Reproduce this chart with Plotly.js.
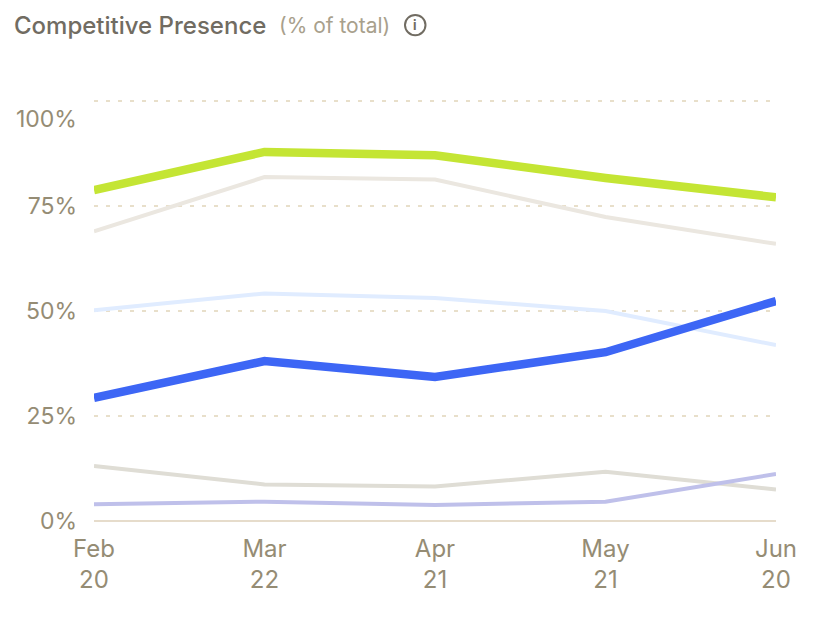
<!DOCTYPE html>
<html>
<head>
<meta charset="utf-8">
<script src="https://cdn.plot.ly/plotly-3.0.1.min.js"></script>
<style>html,body{margin:0;padding:0;background:#fff}#c{width:830px;height:620px}</style>
</head>
<body>
<div id="c"></div>
<script>
const categories = ["Feb<br>20","Mar<br>22","Apr<br>21","May<br>21","Jun<br>20"];
const yTicks = [0,25,50,75,100];
const yTickLabels = ["0%","25%","50%","75%",""];
const greenSeries = [78.8,87.9,87.1,81.7,77.1];
const beigeSeries = [69,81.9,81.3,72.4,66];
const paleBlueSeries = [50.2,54.2,53.1,50,41.9];
const blueSeries = [29.3,38.1,34.3,40.2,52.4];
const greySeries = [13.1,8.7,8.2,11.7,7.5];
const lavenderSeries = [4,4.6,3.8,4.6,11.2];

const W=830,H=620,L=94,R=776,B=521,yMax=100.5,T=B-yMax*4.2;
const px=x=>(x-L)/(R-L), py=y=>(B-y)/(B-T);
const line=(y,color,width)=>({x:categories,y,type:'scatter',mode:'lines',hoverinfo:'skip',showlegend:false,line:{color,width,shape:'linear'}});
const data=[
  line(greySeries,'#dfddd5',4),
  line(lavenderSeries,'#bfc0ea',4),
  line(beigeSeries,'#ebe7e0',4),
  line(paleBlueSeries,'#e0ecff',4),
  line(greenSeries,'#c4e534',8.5),
  line(blueSeries,'#3d66f5',8.5)
];
const font='Inter, sans-serif';
const tickColor='#958c74';
const layout={
  width:W,height:H,margin:{l:L,r:W-R,t:T,b:H-B,pad:0},
  paper_bgcolor:'#fff',plot_bgcolor:'#fff',showlegend:false,
  font:{family:font,color:tickColor,size:23},
  xaxis:{type:'category',categoryorder:'array',categoryarray:categories,range:[0,4],showgrid:false,zeroline:false,showline:false,ticks:'',
    tickfont:{family:font,size:24,color:tickColor},tickangle:0,automargin:false,ticklabelstandoff:11},
  yaxis:{range:[0,yMax],tickmode:'array',tickvals:yTicks,ticktext:yTickLabels,showgrid:true,gridcolor:'#e8dfca',griddash:'4px,8px',gridwidth:1.5,
    zeroline:true,zerolinecolor:'#e6dccb',zerolinewidth:2,showline:false,ticks:'',ticklen:0,
    tickfont:{family:font,size:23,color:tickColor},automargin:false,ticklabelstandoff:16},
  annotations:[
    {xref:'paper',yref:'paper',x:px(12),y:py(25),xanchor:'left',yanchor:'middle',showarrow:false,
     text:'Competitive Presence',font:{family:font,size:24,weight:500,color:'#716c62'}},
    {xref:'paper',yref:'paper',x:px(277),y:py(25),xanchor:'left',yanchor:'middle',showarrow:false,
     text:'(% of total)',font:{family:font,size:21,color:'#a8a08c'}},
    {xref:'paper',yref:'paper',x:px(415),y:py(25),xanchor:'center',yanchor:'middle',showarrow:false,
     text:'i',font:{family:font,size:13,weight:700,color:'#716c62'}},
    {xref:'paper',yref:'y',x:px(79),y:(B-119)/4.2,xanchor:'right',yanchor:'middle',showarrow:false,
     text:'100%',font:{family:font,size:23,color:tickColor}}
  ],
  shapes:[
    {type:'circle',xref:'paper',yref:'paper',x0:px(405),x1:px(425.5),y0:py(35.2),y1:py(14.8),line:{color:'#716c62',width:2},fillcolor:'rgba(0,0,0,0)'}
  ]
};
Plotly.newPlot('c',data,layout,{displayModeBar:false,staticPlot:true});
</script>
</body>
</html>
